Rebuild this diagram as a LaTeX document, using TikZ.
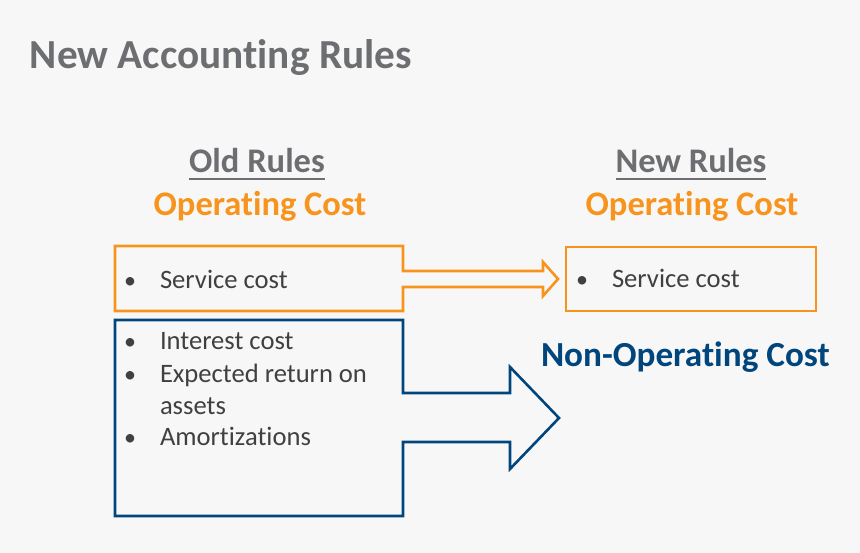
\documentclass[tikz,border=0pt]{standalone}
\usepackage{fontspec}
\setmainfont{Carlito}[Ligatures=NoCommon]
\definecolor{bgc}{HTML}{F7F7F7}
\definecolor{titlegray}{HTML}{6D6E71}
\definecolor{txtgray}{HTML}{404040}
\definecolor{orng}{HTML}{F7941D}
\definecolor{navy}{HTML}{00457C}
\begin{document}
\begin{tikzpicture}[x=1pt,y=-1pt,
  txt/.style={inner sep=0pt, outer sep=0pt},
  title/.style={txt, anchor=base west, text=titlegray, font=\fontsize{41.3}{46}\selectfont\bfseries},
  head/.style={txt, anchor=base, text=titlegray, font=\fontsize{34.5}{38}\selectfont\bfseries},
  ophead/.style={txt, anchor=base, text=orng, font=\fontsize{34.5}{38}\selectfont\bfseries},
  item/.style={txt, anchor=base west, text=txtgray, font=\fontsize{26.6}{30}\selectfont},
  bul/.style={txt, anchor=base, text=txtgray, font=\fontsize{24}{30}\selectfont},
  obox/.style={draw=orng, line width=2.6pt, line join=miter},
  bbox/.style={draw=navy, line width=2.6pt, line join=miter},
  uline/.style={draw=titlegray, line width=2pt}
]
\fill[bgc] (0,0) rectangle (860,553);
\useasboundingbox (0,0) rectangle (860,553);

\node[title] (ttl) at (30,69) {New Accounting Rules};

% headings
\node[head] (oldr) at (257,173) {Old Rules};
\draw[uline] ([yshift=-6pt]oldr.base west) -- ([yshift=-6pt]oldr.base east);
\node[ophead] (oldop) at (260,216) {Operating Cost};
\node[head] (newr) at (691,173) {New Rules};
\draw[uline] ([yshift=-6pt]newr.base west) -- ([yshift=-6pt]newr.base east);
\node[ophead] (newop) at (692,216) {Operating Cost};

% orange box with arrow
\draw[obox] (115,246) -- (403,246) -- (403,271) -- (543,271) -- (543,262) -- (558,279)
  -- (543,296) -- (543,287) -- (403,287) -- (403,311) -- (115,311) -- cycle;
\node[bul] (b1) at (130,289) {•};
\node[item] (s1) at (160,289) {Service cost};

% right orange box
\draw[obox] (566,247) rectangle (816,311);
\node[bul] (b2) at (582,288) {•};
\node[item] (s2) at (612,288) {Service cost};

% blue box with arrow
\draw[bbox] (115,320) -- (403,320) -- (403,393) -- (510,393) -- (510,367) -- (559,418)
  -- (510,469) -- (510,442) -- (403,442) -- (403,516) -- (115,516) -- cycle;
\node[bul] (b3) at (130,350) {•};
\node[item] (i1) at (160,350) {Interest cost};
\node[bul] (b4) at (130,383) {•};
\node[item] (i2) at (160,383) {Expected return on};
\node[item] (i3) at (160,414) {assets};
\node[bul] (b5) at (130,446) {•};
\node[item] (i4) at (160,446) {Amortizations};

\node[txt, anchor=base west, text=navy, font=\fontsize{35.2}{39}\selectfont\bfseries] (nonop) at (541,367) {Non-Operating Cost};
\end{tikzpicture}
\end{document}
